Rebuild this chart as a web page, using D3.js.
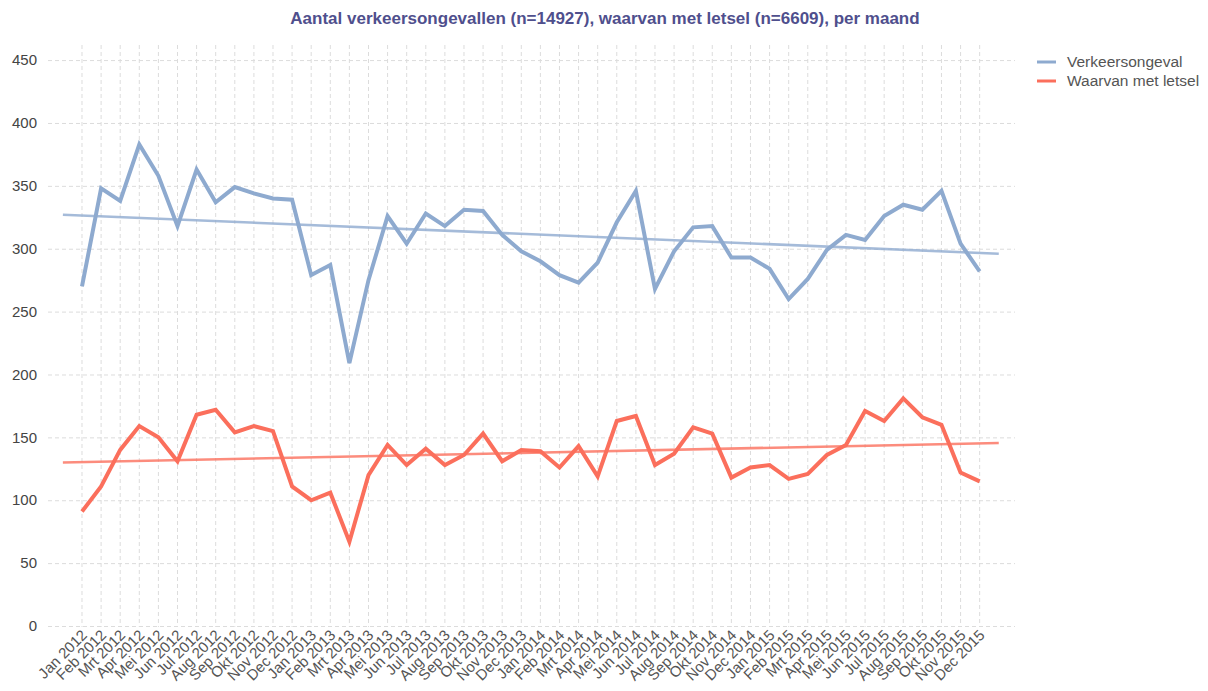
<!DOCTYPE html>
<html><head><meta charset="utf-8">
<script src="https://cdn.jsdelivr.net/npm/d3@7"></script>
<style>body{margin:0;background:#fff}svg{display:block}</style>
</head><body><svg id="c" width="1208" height="691"></svg>
<script>
const months = ["Jan 2012","Feb 2012","Mrt 2012","Apr 2012","Mei 2012","Jun 2012","Jul 2012","Aug 2012","Sep 2012","Okt 2012","Nov 2012","Dec 2012",
"Jan 2013","Feb 2013","Mrt 2013","Apr 2013","Mei 2013","Jun 2013","Jul 2013","Aug 2013","Sep 2013","Okt 2013","Nov 2013","Dec 2013",
"Jan 2014","Feb 2014","Mrt 2014","Apr 2014","Mei 2014","Jun 2014","Jul 2014","Aug 2014","Sep 2014","Okt 2014","Nov 2014","Dec 2014",
"Jan 2015","Feb 2015","Mrt 2015","Apr 2015","Mei 2015","Jun 2015","Jul 2015","Aug 2015","Sep 2015","Okt 2015","Nov 2015","Dec 2015"];
const verkeersongeval = [270,348,338,383,358,318,363,337,349,344,340,339,
279,287,209,275,326,304,328,318,331,330,311,298,
290,279,273,289,321,346,268,298,317,318,293,293,
284,260,276,299,311,307,326,335,331,346,304,282];
const metLetsel = [91,111,140,159,150,131,168,172,154,159,155,111,
100,106,67,120,144,128,141,128,136,153,131,140,
139,126,143,119,163,167,128,137,158,153,118,126,
128,117,121,136,144,171,163,181,166,160,122,115];
// trend lines: [value at start, value at end], drawn half a step beyond first/last month
const trendVerkeer = [327, 296];
const trendLetsel = [130, 145.5];
const yTicks = [0,50,100,150,200,250,300,350,400,450];
const seriesNames = ["Verkeersongeval","Waarvan met letsel"];
const colors = ["#8eaacf","#fb6f5c"];
const title = "Aantal verkeersongevallen (n=14927), waarvan met letsel (n=6609), per maand";

const svg = d3.select("#c");
const L = 48, R = 1015, T = 45, B = 626;
const x = d3.scaleLinear().domain([-1.78, 48.85]).range([L, R]);
const y = d3.scaleLinear().domain([0, 462]).range([B, T]);
const font = "'Liberation Sans', Arial, sans-serif";

// grid
const g = svg.append("g");
g.selectAll("line.v").data(months).join("line")
  .attr("x1",(d,i)=>x(i)).attr("x2",(d,i)=>x(i)).attr("y1",T).attr("y2",B+1)
  .attr("stroke","#dcdcdc").attr("stroke-dasharray","4,3").attr("stroke-width",1);
g.selectAll("line.h").data(yTicks).join("line")
  .attr("x1",L).attr("x2",R).attr("y1",d=>y(d)+0.5).attr("y2",d=>y(d)+0.5)
  .attr("stroke","#dcdcdc").attr("stroke-dasharray","4,3").attr("stroke-width",1);

// y labels
svg.append("g").selectAll("text").data(yTicks).join("text")
  .attr("x",37).attr("y",d=>y(d)).attr("dy","0.35em").attr("text-anchor","end")
  .attr("font-family",font).attr("font-size",15).attr("fill","#444").text(d=>d);

// x labels
svg.append("g").selectAll("text").data(months).join("text")
  .attr("transform",(d,i)=>`translate(${x(i)+6},${B+10}) rotate(-45)`)
  .attr("text-anchor","end").attr("font-family",font).attr("font-size",15).attr("fill","#555").text(d=>d);

// trend lines
const tline = d3.line().x(d=>x(d[0])).y(d=>y(d[1]));
[[trendVerkeer,colors[0]],[trendLetsel,colors[1]]].forEach(([t,c])=>{
  svg.append("path").attr("d",tline([[-1,t[0]],[48,t[1]]]))
    .attr("fill","none").attr("stroke",c).attr("stroke-width",2.6).attr("stroke-opacity",0.8);
});

// data lines
const line = d3.line().x((d,i)=>x(i)).y(d=>y(d));
[[verkeersongeval,colors[0]],[metLetsel,colors[1]]].forEach(([s,c])=>{
  svg.append("path").attr("d",line(s)).attr("fill","none").attr("stroke",c)
    .attr("stroke-width",4).attr("stroke-linejoin","miter");
});

// title
svg.append("text").attr("x",605).attr("y",24).attr("text-anchor","middle")
  .attr("font-family",font).attr("font-weight","bold").attr("font-size",17)
  .attr("fill","#4f4f8d").text(title);

// legend
const lg = svg.append("g");
seriesNames.forEach((n,i)=>{
  const yy = 62 + i*19;
  lg.append("line").attr("x1",1037).attr("x2",1056).attr("y1",yy).attr("y2",yy)
    .attr("stroke",colors[i]).attr("stroke-width",3);
  lg.append("text").attr("x",1067).attr("y",yy).attr("dy","0.35em")
    .attr("font-family",font).attr("font-size",15.5).attr("fill","#555").text(n);
});
</script></body></html>
